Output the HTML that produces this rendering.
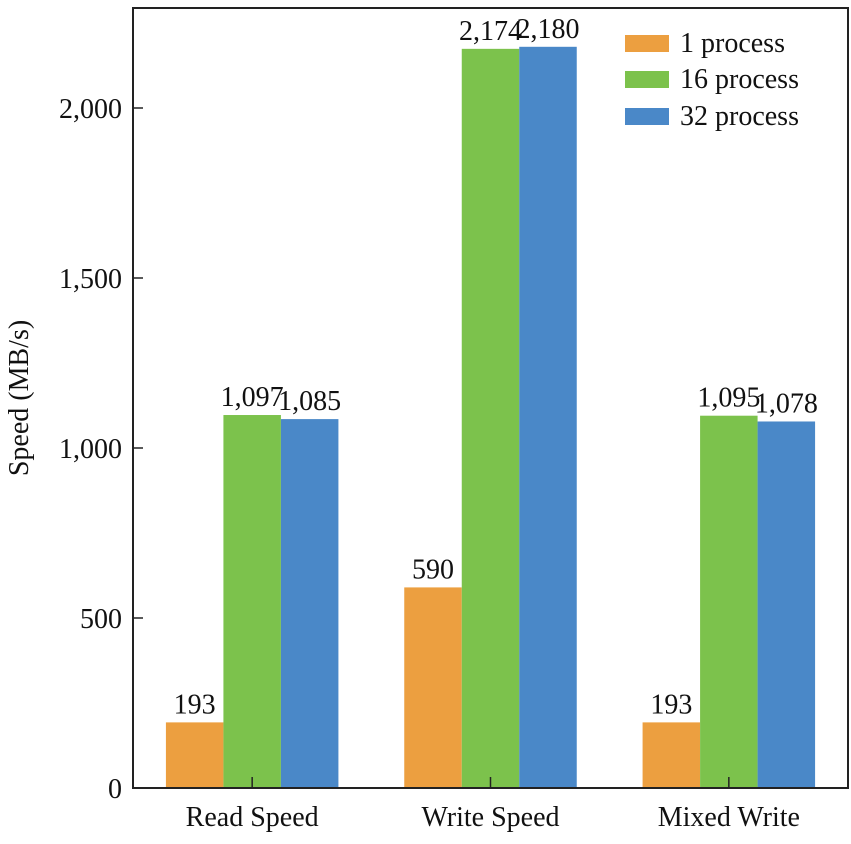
<!DOCTYPE html>
<html><head><meta charset="utf-8"><style>
html,body{margin:0;padding:0;background:#fff;}
svg text{font-family:"Liberation Serif",serif;fill:#111;}
</style></head><body>
<svg id="chart" width="851" height="839" viewBox="0 0 851 839" xmlns="http://www.w3.org/2000/svg">
<g id="bars"></g>
<g id="labels"></g>
<g id="axes"></g>
<text x="28" y="398" font-size="28" text-anchor="middle" transform="rotate(-90 28 398)">Speed (MB/s)</text>
<g>
<rect x="625" y="35" width="44" height="17" fill="#EC9F40"/>
<text x="680" y="52" font-size="28">1 process</text>
<rect x="625" y="71" width="44" height="17" fill="#7CC24C"/>
<text x="680" y="88" font-size="28">16 process</text>
<rect x="625" y="108" width="44" height="17" fill="#4A88C8"/>
<text x="680" y="125" font-size="28">32 process</text>
</g>
</svg>
<script>
const categories = ["Read Speed","Write Speed","Mixed Write"];
const seriesNames = ["1 process","16 process","32 process"];
const series1 = [193, 590, 193];
const series16 = [1097, 2174, 1095];
const series32 = [1085, 2180, 1078];
const yTicks = [0, 500, 1000, 1500, 2000];
const yTickLabels = ["0","500","1,000","1,500","2,000"];
const colors = ["#EC9F40","#7CC24C","#4A88C8"];
const NS="http://www.w3.org/2000/svg";
const L=133,R=848,T=8,B=788;
const y=v=>B-(v/2000)*(B-108);
const band=(R-L)/categories.length;
const xc=i=>L+band*(i+0.5);
const bw=57.5;
function mk(tag,attrs,parent){const e=document.createElementNS(NS,tag);for(const k in attrs)e.setAttribute(k,attrs[k]);parent.appendChild(e);return e;}
const gb=document.getElementById('bars'),gl=document.getElementById('labels'),ga=document.getElementById('axes');
const all=[series1,series16,series32];
const fmt=v=>v.toLocaleString('en-US');
categories.forEach((c,i)=>{
  all.forEach((s,j)=>{
    const x=xc(i)+(j-1.5)*bw;
    const r=mk('rect',{x:x,y:y(s[i]),width:bw,height:B-y(s[i]),fill:colors[j]},gb);
    
    
    const t=mk('text',{x:x+bw/2,y:y(s[i])-9,'font-size':28,'text-anchor':'middle'},gl);
    t.textContent=fmt(s[i]);
    
    
  });
  const t=mk('text',{x:xc(i),y:826,'font-size':28,'text-anchor':'middle'},ga);
  t.textContent=c;
  
  
  const tk=mk('line',{x1:xc(i),x2:xc(i),y1:B,y2:B-11,stroke:'#222','stroke-width':1.5},ga);
  
  
});
yTicks.forEach((v,k)=>{
  const t=mk('text',{x:122,y:y(v)+10,'font-size':28,'text-anchor':'end'},ga);
  t.textContent=yTickLabels[k];
  
  
  const tk=mk('line',{x1:L,x2:L+10,y1:y(v),y2:y(v),stroke:'#222','stroke-width':1.5},ga);
  
  
});
const fr=mk('rect',{x:L,y:T,width:R-L,height:B-T,fill:'none',stroke:'#222','stroke-width':2},ga);


</script>
</body></html>
